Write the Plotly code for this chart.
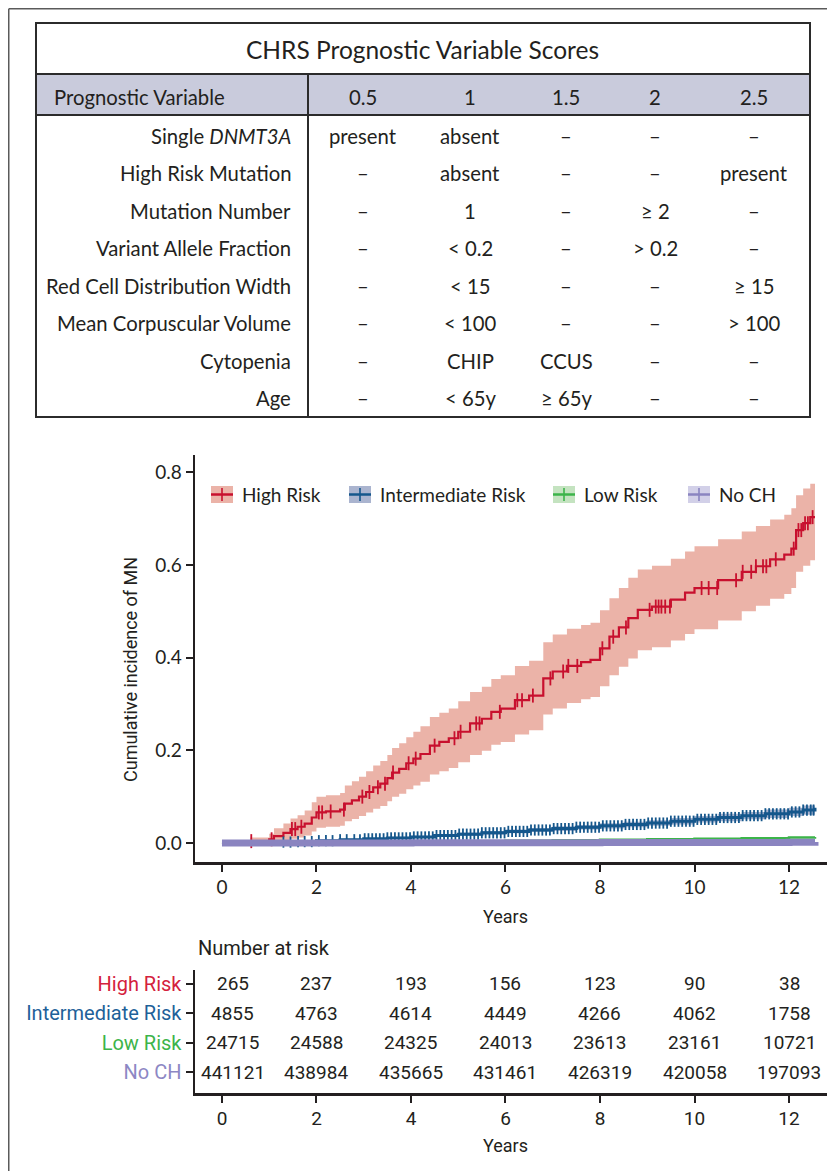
import numpy as np
import plotly.graph_objects as go

# full page figure; body margin removed in the written page
OFF = 0
FW, FH = 827, 1171

# ---------------- table data ----------------
table_title = "CHRS Prognostic Variable Scores"
header_label = "Prognostic Variable"
score_levels = ["0.5", "1", "1.5", "2", "2.5"]
variables = ["Single <i>DNMT3A</i>", "High Risk Mutation", "Mutation Number",
             "Variant Allele Fraction", "Red Cell Distribution Width",
             "Mean Corpuscular Volume", "Cytopenia", "Age"]
cells = [
    ["present", "absent", "–", "–", "–"],
    ["–", "absent", "–", "–", "present"],
    ["–", "1", "–", "≥ 2", "–"],
    ["–", "&lt; 0.2", "–", "&gt; 0.2", "–"],
    ["–", "&lt; 15", "–", "–", "≥ 15"],
    ["–", "&lt; 100", "–", "–", "&gt; 100"],
    ["–", "CHIP", "CCUS", "–", "–"],
    ["–", "&lt; 65y", "≥ 65y", "–", "–"],
]

# ---------------- curve data ----------------
groups = ["High Risk", "Intermediate Risk", "Low Risk", "No CH"]

hr_t = [0, 0.6, 1.0, 1.1, 1.3, 1.45, 1.6, 1.75, 1.9, 2.0, 2.2, 2.5, 2.6, 2.75, 2.9,
        3.05, 3.2, 3.35, 3.5, 3.6, 3.75, 3.9, 4.05, 4.2, 4.4, 4.6, 4.8, 5.0, 5.25, 5.5,
        5.7, 5.9, 6.2, 6.5, 6.8, 7.0, 7.3, 7.6, 7.8, 8.0, 8.2, 8.4, 8.6, 8.8, 9.1,
        9.5, 9.8, 10.0, 10.5, 11.0, 11.3, 11.6, 11.9, 12.05, 12.15, 12.3, 12.45, 12.55]
hr_est = [0, 0.004, 0.008, 0.015, 0.022, 0.030, 0.035, 0.042, 0.055, 0.066, 0.068, 0.072,
          0.085, 0.092, 0.100, 0.110, 0.120, 0.128, 0.140, 0.152, 0.160, 0.172, 0.182,
          0.192, 0.210, 0.218, 0.226, 0.240, 0.258, 0.268, 0.283, 0.290, 0.308, 0.318,
          0.355, 0.370, 0.382, 0.390, 0.395, 0.420, 0.445, 0.465, 0.485, 0.503, 0.510,
          0.525, 0.540, 0.550, 0.567, 0.585, 0.597, 0.612, 0.622, 0.635, 0.675, 0.690,
          0.703, 0.703]
hr_lo = [0, 0, 0, 0.001, 0.004, 0.009, 0.012, 0.016, 0.025, 0.033, 0.035, 0.037, 0.047,
         0.052, 0.058, 0.066, 0.074, 0.080, 0.090, 0.100, 0.106, 0.116, 0.124, 0.132,
         0.148, 0.155, 0.162, 0.174, 0.190, 0.199, 0.212, 0.218, 0.234, 0.243, 0.277,
         0.290, 0.302, 0.310, 0.315, 0.338, 0.362, 0.380, 0.398, 0.416, 0.422, 0.437,
         0.451, 0.461, 0.480, 0.500, 0.512, 0.527, 0.537, 0.550, 0.585, 0.598, 0.610, 0.610]
hr_hi = [0, 0.012, 0.020, 0.032, 0.042, 0.053, 0.060, 0.070, 0.088, 0.100, 0.103, 0.108,
         0.124, 0.133, 0.143, 0.155, 0.167, 0.177, 0.190, 0.205, 0.215, 0.228, 0.240,
         0.252, 0.272, 0.281, 0.290, 0.306, 0.326, 0.337, 0.354, 0.362, 0.382, 0.393,
         0.433, 0.450, 0.462, 0.470, 0.475, 0.502, 0.528, 0.550, 0.572, 0.590, 0.598,
         0.613, 0.629, 0.640, 0.655, 0.672, 0.684, 0.698, 0.708, 0.722, 0.750, 0.765,
         0.775, 0.775]
hr_cens = [0.62, 1.05, 1.48, 1.55, 1.68, 2.05, 2.12, 2.3, 2.58, 2.97, 3.12, 3.3, 3.45, 3.62,
           3.95, 4.1, 4.5, 4.92, 5.05, 5.38, 5.45, 5.88, 6.25, 6.35, 6.58, 6.95, 7.22, 7.33,
           7.52, 8.05, 8.28, 8.55, 9.05, 9.18, 9.24, 9.3, 9.38, 9.48, 10.15, 10.3, 10.48,
           10.88, 11.02, 11.2, 11.3, 11.45, 11.52, 11.72, 12.1, 12.2, 12.26, 12.34, 12.4, 12.5]

int_t = [0, 0.5, 1.0, 1.5, 2.0, 2.5, 3.0, 3.5, 4.0, 4.5, 5.0, 5.5, 6.0, 6.5, 7.0, 7.5,
         8.0, 8.5, 9.0, 9.5, 10.0, 10.5, 11.0, 11.5, 12.0, 12.3, 12.55]
int_est = [0, 0.001, 0.002, 0.003, 0.005, 0.007, 0.009, 0.011, 0.013, 0.016, 0.019, 0.022,
           0.025, 0.028, 0.031, 0.034, 0.037, 0.040, 0.043, 0.047, 0.051, 0.055, 0.059,
           0.063, 0.067, 0.071, 0.076]
int_lo = [0, 0.0005, 0.0012, 0.002, 0.0035, 0.005, 0.007, 0.0085, 0.0105, 0.013, 0.0155,
          0.018, 0.021, 0.0235, 0.026, 0.029, 0.0315, 0.034, 0.037, 0.040, 0.044, 0.047,
          0.051, 0.054, 0.058, 0.061, 0.065]
int_hi = [0, 0.0015, 0.003, 0.0045, 0.0065, 0.009, 0.011, 0.0135, 0.0155, 0.019, 0.0225,
          0.026, 0.029, 0.0325, 0.036, 0.039, 0.0425, 0.046, 0.049, 0.054, 0.058, 0.063,
          0.067, 0.072, 0.076, 0.081, 0.087]
int_cens = [1.30, 1.45, 1.61, 1.75, 1.90, 2.05, 2.20, 2.34, 2.50, 2.64, 2.80, 2.92,
            3.02, 3.10, 3.18, 3.26, 3.34, 3.42, 3.50, 3.58, 3.66, 3.74, 3.82, 3.90, 3.98,
            4.06, 4.14, 4.22, 4.30, 4.38, 4.46, 4.54, 4.62, 4.70, 4.78, 4.86, 4.94, 5.02,
            5.10, 5.18, 5.26, 5.34, 5.42, 5.50, 5.58, 5.66, 5.74, 5.82, 5.90, 5.98, 6.06,
            6.14, 6.22, 6.30, 6.38, 6.46, 6.54, 6.62, 6.70, 6.78, 6.86, 6.94, 7.02, 7.10,
            7.18, 7.26, 7.34, 7.42, 7.50, 7.58, 7.66, 7.74, 7.82, 7.90, 7.98, 8.06, 8.14,
            8.22, 8.30, 8.38, 8.46, 8.54, 8.62, 8.70, 8.78, 8.86, 8.94, 9.02, 9.10, 9.18,
            9.26, 9.34, 9.42, 9.50, 9.58, 9.66, 9.74, 9.82, 9.90, 9.98, 10.06, 10.14, 10.22,
            10.30, 10.38, 10.46, 10.54, 10.62, 10.70, 10.78, 10.86, 10.94, 11.02, 11.10,
            11.18, 11.26, 11.34, 11.42, 11.50, 11.58, 11.66, 11.74, 11.82, 11.90, 11.98,
            12.06, 12.14, 12.22, 12.30, 12.38, 12.46, 12.52]

low_t = [0, 1, 2, 3, 4, 5, 6, 7, 8, 9, 10, 11, 12, 12.55]
low_est = [0, 0.0006, 0.0013, 0.002, 0.0028, 0.0037, 0.0047, 0.0057, 0.0068, 0.008,
           0.0092, 0.0105, 0.012, 0.013]
low_lo = [0, 0.0003, 0.0009, 0.0015, 0.0022, 0.003, 0.0039, 0.0048, 0.0058, 0.0069,
          0.008, 0.0091, 0.0104, 0.0113]
low_hi = [0, 0.0009, 0.0017, 0.0025, 0.0034, 0.0044, 0.0055, 0.0066, 0.0078, 0.0091,
          0.0104, 0.0119, 0.0136, 0.0148]

nch_t = [0, 2, 4, 6, 8, 10, 12, 12.55]
nch_est = [0, 0.0002, 0.0004, 0.0007, 0.001, 0.0013, 0.0017, 0.0019]
nch_lo = [0, 0.0001, 0.0003, 0.0006, 0.0009, 0.0012, 0.0015, 0.0017]
nch_hi = [0, 0.0003, 0.0005, 0.0008, 0.0011, 0.0014, 0.0019, 0.0021]

# ---------------- number at risk ----------------
risk_years = [0, 2, 4, 6, 8, 10, 12]
n_high = [265, 237, 193, 156, 123, 90, 38]
n_int = [4855, 4763, 4614, 4449, 4266, 4062, 1758]
n_low = [24715, 24588, 24325, 24013, 23613, 23161, 10721]
n_noch = [441121, 438984, 435665, 431461, 426319, 420058, 197093]

y_ticks = [0.0, 0.2, 0.4, 0.6, 0.8]
x_ticks = [0, 2, 4, 6, 8, 10, 12]

# ---------------- styles ----------------
line_cols = ["#c8102e", "#15578c", "#3cb44a", "#8a84c0"]
band_cols = ["#ebb3a8", "#aab4cf", "#c4e3c0", "#d2d0e8"]
label_cols = ["#d4213d", "#1e6199", "#3cb44a", "#8d87c4"]
INK = "#231f20"
TFONT = "Lato"
CFONT = "Roboto"


def px(x):
    return (x - OFF) / FW


def py(y):
    return 1 - (y - OFF) / FH


def step_at(t, v, q):
    idx = np.searchsorted(np.asarray(t), np.asarray(q), side="right") - 1
    return np.asarray(v)[idx]


fig = go.Figure()

series = [
    (hr_t, hr_est, hr_lo, hr_hi, hr_cens),
    (int_t, int_est, int_lo, int_hi, int_cens),
    (low_t, low_est, low_lo, low_hi, None),
    (nch_t, nch_est, nch_lo, nch_hi, None),
]

# confidence bands
for i, (t, est, lo, hi, cens) in enumerate(series):
    fig.add_trace(go.Scatter(x=t, y=lo, mode="lines", line=dict(width=0, shape="hv"),
                             hoverinfo="skip", showlegend=False))
    fig.add_trace(go.Scatter(x=t, y=hi, mode="lines", line=dict(width=0, shape="hv"),
                             fill="tonexty", fillcolor=band_cols[i],
                             hoverinfo="skip", showlegend=False))

line_widths = [2.2, 3, 2.5, 7]
mark_sizes = [10, 8]
for i, (t, est, lo, hi, cens) in enumerate(series):
    fig.add_trace(go.Scatter(x=t, y=est, mode="lines",
                             line=dict(width=line_widths[i], color=line_cols[i], shape="hv"),
                             name=groups[i], showlegend=False, hoverinfo="skip"))
    if cens is not None:
        fig.add_trace(go.Scatter(x=cens, y=step_at(t, est, cens), mode="markers",
                                 marker=dict(symbol="line-ns", size=mark_sizes[i],
                                             line=dict(width=1.8, color=line_cols[i])),
                                 showlegend=False, hoverinfo="skip"))

# invisible anchor trace for risk table axes
fig.add_trace(go.Scatter(x=[0], y=[1], xaxis="x2", yaxis="y2", mode="markers",
                         marker=dict(opacity=0), showlegend=False, hoverinfo="skip"))

shapes = []
annotations = []


def ann(x, y, text, size, family=TFONT, xanchor="center", **kw):
    annotations.append(dict(xref="paper", yref="paper", x=px(x), y=py(y), text=text,
                            showarrow=False, xanchor=xanchor, yanchor="middle",
                            font=dict(family=family, size=size, color=INK), **kw))


def pline(x0, y0, x1, y1, color, width):
    shapes.append(dict(type="line", xref="paper", yref="paper", x0=px(x0), x1=px(x1),
                       y0=py(y0), y1=py(y1), line=dict(color=color, width=width)))


# outer frame
pline(8.75, 8.75, 827, 8.75, "#5a5a5a", 1.5)
pline(8.75, 8.75, 8.75, 1171, "#5a5a5a", 1.5)

# table
TL, TR, TT, TB = 36, 810, 23, 417
HT, HB, DIV = 74, 115, 308
shapes.append(dict(type="rect", xref="paper", yref="paper", x0=px(TL), x1=px(TR),
                   y0=py(HB), y1=py(HT), fillcolor="#c9cbdc", line=dict(width=0)))
pline(TL, HT, TR, HT, "#2b2b2b", 2)
pline(TL, HB, TR, HB, "#2b2b2b", 2)
pline(DIV, HT, DIV, TB, "#2b2b2b", 2)
shapes.append(dict(type="rect", xref="paper", yref="paper", x0=px(TL), x1=px(TR),
                   y0=py(TB), y1=py(TT), line=dict(color="#2b2b2b", width=2)))

ann((TL + TR) / 2, 50, table_title, 24.5)
ann(52, 97, header_label, 20.3, xanchor="left")
col_x = [363, 470, 566, 655, 754]
for cx, lab in zip(col_x, score_levels):
    ann(cx, 97, lab, 20.3)
row_y = [136, 173.5, 211, 248.5, 286, 323.5, 361, 398.5]
for ry, var, row in zip(row_y, variables, cells):
    ann(293, ry, var, 20.3, xanchor="right")
    for cx, val in zip(col_x, row):
        ann(cx, ry, val, 20.3)

# legend (manual)
leg_patch_x = [211, 349, 553, 688]
for i, lx in enumerate(leg_patch_x):
    shapes.append(dict(type="rect", xref="paper", yref="paper", x0=px(lx), x1=px(lx + 22),
                       y0=py(503), y1=py(486), fillcolor=band_cols[i], line=dict(width=0)))
    pline(lx, 494.5, lx + 22, 494.5, line_cols[i], 2.5)
    pline(lx + 11, 488, lx + 11, 501, line_cols[i], 1.6)
    ann(lx + 29, 494.5, groups[i], 19, xanchor="left")

# axis titles
ann(130, 670, "Cumulative incidence of MN", 18, family=CFONT, textangle=-90)
ann(505, 916, "Years", 18, family=CFONT)
ann(505, 1145, "Years", 18, family=CFONT)
ann(196, 948, "Number at risk", 20, family=CFONT, xanchor="left")

# number at risk values
risk_rows = [n_high, n_int, n_low, n_noch]
row_pos = [4, 3, 2, 1]
for rp, vals in zip(row_pos, risk_rows):
    for j, (yr, v) in enumerate(zip(risk_years, vals)):
        annotations.append(dict(xref="x2", yref="y2", x=yr, y=rp, text=str(v),
                                showarrow=False, xanchor="center", yanchor="middle",
                                xshift=11 if j == 0 else 0,
                                font=dict(family=CFONT, size=19, color=INK)))

x_dom = [px(195), 1.0]
x_rng = [-0.571, (827 - 222) / 47.25]
axis_common = dict(showline=True, linewidth=2.5, linecolor=INK, ticks="outside",
                   ticklen=7, tickwidth=2, tickcolor=INK, showgrid=False, zeroline=False,
                   fixedrange=True)

fig.update_layout(
    width=FW, height=FH, margin=dict(l=0, r=0, t=0, b=0),
    paper_bgcolor="white", plot_bgcolor="white", showlegend=False,
    shapes=shapes, annotations=annotations,
    xaxis=dict(domain=x_dom, range=x_rng, anchor="y", tickvals=x_ticks,
               tickfont=dict(family=TFONT, size=19, color=INK), **axis_common),
    yaxis=dict(domain=[py(862), py(455)], range=[-0.041, 0.837], anchor="x",
               tickvals=y_ticks, ticktext=[f"{v:.1f}" for v in y_ticks],
               tickfont=dict(family=TFONT, size=19, color=INK), **axis_common),
    xaxis2=dict(domain=x_dom, range=x_rng, anchor="y2", tickvals=x_ticks,
                tickfont=dict(family=CFONT, size=19, color=INK), **axis_common),
    yaxis2=dict(domain=[py(1093), py(970)], range=[0.284, 4.477], anchor="x2",
                tickvals=row_pos,
                ticktext=[f"<span style='color:{c}'>{g}</span>" for c, g in zip(label_cols, groups)],
                tickfont=dict(family=CFONT, size=20, color=INK), **axis_common),
)

fig.write_html(
    "out.html",
    config={"displayModeBar": False, "staticPlot": True},
    post_script="document.body.style.margin='0';"
                "document.documentElement.style.overflow='hidden';"
                "document.body.style.overflow='hidden';",
)
